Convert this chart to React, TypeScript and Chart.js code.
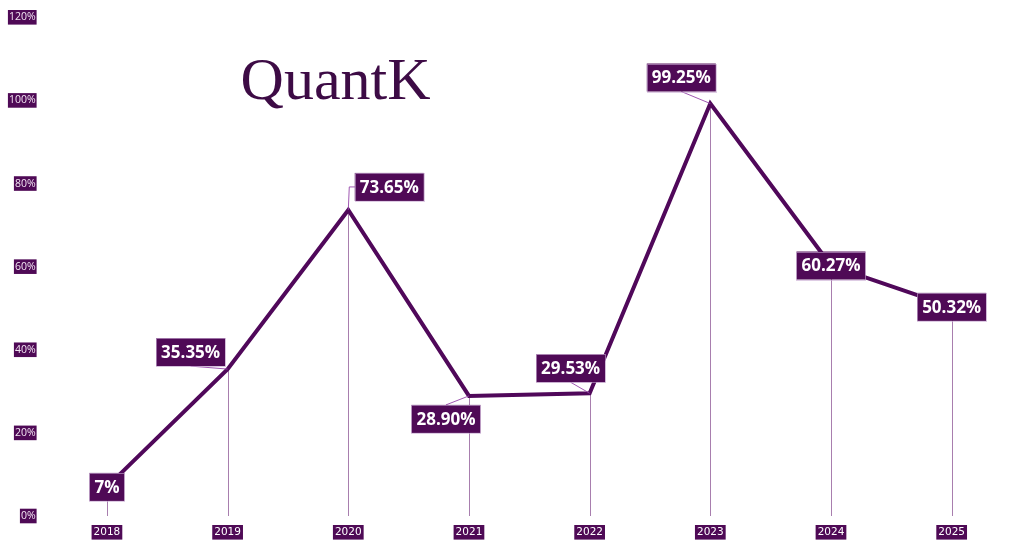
import React, { useEffect, useRef } from "react";
import { Chart, registerables } from "chart.js";

Chart.register(...registerables);

const years = ["2018", "2019", "2020", "2021", "2022", "2023", "2024", "2025"];
const returns = [7, 35.35, 73.65, 28.9, 29.53, 99.25, 60.27, 50.32];
const valueLabels = ["7%", "35.35%", "73.65%", "28.90%", "29.53%", "99.25%", "60.27%", "50.32%"];
const yMin = 0;
const yMax = 120;
const yStep = 20;
const titleText = "QuantK";

// label placement relative to each point (style, not data)
const labelOffsets: [number, number][] = [
  [0, 0], [-37, -17], [41, -23], [-23, 23], [-19, -25], [-29, -26], [0, 0], [0, 0],
];
const leaderAnchors = ["none", "bottom", "left", "top", "bottom", "bottom", "none", "none"];

const PURPLE = "#50085a";
const BOX = "#4f0a56";

const overlayPlugin = {
  id: "overlay",
  beforeDatasetsDraw(chart: any) {
    const ctx = chart.ctx;
    const meta = chart.getDatasetMeta(0);
    const bottom = chart.chartArea.bottom;
    ctx.save();
    ctx.strokeStyle = "rgba(110,40,120,0.6)";
    ctx.lineWidth = 1;
    meta.data.forEach((p: any) => {
      const x = Math.round(p.x) + 0.5;
      ctx.beginPath();
      ctx.moveTo(x, p.y);
      ctx.lineTo(x, bottom);
      ctx.stroke();
    });
    ctx.font = "60px 'Liberation Serif', 'DejaVu Serif', serif";
    ctx.fillStyle = "#3d0b45";
    ctx.textBaseline = "alphabetic";
    ctx.textAlign = "left";
    ctx.fillText(titleText, chart.chartArea.left + 194, 99);
    ctx.restore();
  },
  afterDatasetsDraw(chart: any) {
    const ctx = chart.ctx;
    const meta = chart.getDatasetMeta(0);
    ctx.save();
    ctx.font = "bold 17px 'Open Sans', 'Noto Sans', sans-serif";
    meta.data.forEach((p: any, i: number) => {
      const text = valueLabels[i];
      const [ox, oy] = labelOffsets[i];
      const cx = p.x + ox;
      const cy = p.y + oy;
      const tw = ctx.measureText(text).width;
      const w = tw + 10;
      const h = 28;
      const anchor = leaderAnchors[i];
      ctx.strokeStyle = "rgba(150,70,170,0.9)";
      ctx.lineWidth = 1;
      if (anchor === "bottom" || anchor === "top") {
        ctx.beginPath();
        ctx.moveTo(cx, anchor === "bottom" ? cy + h / 2 : cy - h / 2);
        ctx.lineTo(p.x, p.y);
        ctx.stroke();
      } else if (anchor === "left") {
        ctx.beginPath();
        ctx.moveTo(cx - w / 2, cy);
        ctx.lineTo(p.x + 1, cy);
        ctx.lineTo(p.x, p.y);
        ctx.stroke();
      }
      ctx.fillStyle = BOX;
      ctx.fillRect(cx - w / 2, cy - h / 2, w, h);
      ctx.strokeStyle = "rgba(200,170,210,0.6)";
      ctx.strokeRect(Math.round(cx - w / 2) + 0.5, Math.round(cy - h / 2) + 0.5, Math.round(w), h);
      ctx.fillStyle = "#ffffff";
      ctx.textAlign = "center";
      ctx.textBaseline = "middle";
      ctx.fillText(text, cx, cy + 1);
    });
    ctx.restore();
  },
};

export default function App() {
  const canvasRef = useRef<HTMLCanvasElement | null>(null);

  useEffect(() => {
    if (!canvasRef.current) return;
    const chart = new Chart(canvasRef.current, {
      type: "line",
      data: {
        labels: years,
        datasets: [
          {
            label: "Return",
            data: returns,
            borderColor: PURPLE,
            borderWidth: 4,
            pointRadius: 0,
            tension: 0,
            fill: false,
          },
        ],
      },
      options: {
        animation: false,
        responsive: true,
        maintainAspectRatio: false,
        layout: { padding: { left: 0, right: 12, top: 12, bottom: 0 } },
        plugins: {
          legend: { display: false },
          tooltip: { enabled: false },
          title: { display: false },
        },
        scales: {
          x: {
            type: "category",
            offset: true,
            grid: { display: false, drawTicks: false },
            border: { display: false },
            afterFit: (scale: any) => {
              scale.height = 31;
            },
            ticks: {
              color: "#ffffff",
              font: { size: 10.5, family: "'DejaVu Sans', sans-serif" },
              padding: 10,
              maxRotation: 0,
              showLabelBackdrop: true,
              backdropColor: BOX,
              backdropPadding: { x: 2, y: 1 },
            },
          },
          y: {
            min: yMin,
            max: yMax,
            grid: { display: false, drawTicks: false },
            border: { display: false },
            afterFit: (scale: any) => {
              scale.width = 46.6;
            },
            ticks: {
              stepSize: yStep,
              color: "#f3e6f3",
              font: { size: 10.5, family: "'Open Sans', 'Noto Sans', sans-serif" },
              padding: 11,
              showLabelBackdrop: true,
              backdropColor: BOX,
              backdropPadding: { x: 1, y: 1 },
              callback: (v: any) => v + "%",
            },
          },
        },
      },
      plugins: [overlayPlugin],
    });
    return () => chart.destroy();
  }, []);

  return (
    <div style={{ position: "absolute", left: 0, top: 0, width: 1024, height: 547, background: "#ffffff" }}>
      <canvas ref={canvasRef} />
    </div>
  );
}
